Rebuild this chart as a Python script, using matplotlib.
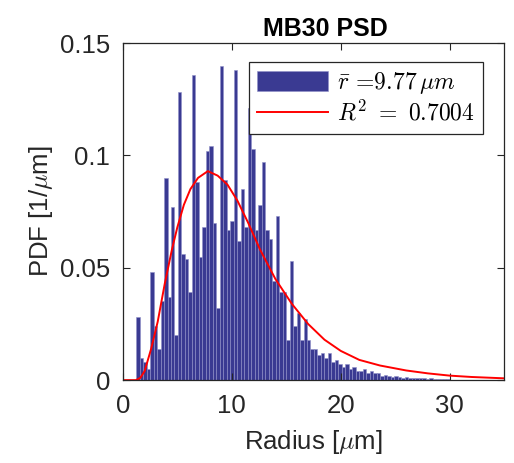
import numpy as np
import matplotlib
matplotlib.use("Agg")
import matplotlib.pyplot as plt

# histogram of radii (bin width ~0.32 um, first bin centred at ~1.38 um)
bin_start = 1.38
bin_width = 0.32
pdf_values = [
    0.028, 0.010, 0.008, 0.005, 0.048, 0.024, 0.014, 0.035, 0.090, 0.037,
    0.077, 0.020, 0.128, 0.056, 0.054, 0.039, 0.136, 0.088, 0.055, 0.068,
    0.102, 0.104, 0.070, 0.032, 0.140, 0.089, 0.067, 0.071, 0.138, 0.062,
    0.085, 0.068, 0.121, 0.103, 0.067, 0.078, 0.097, 0.067, 0.063, 0.044,
    0.073, 0.039, 0.039, 0.018, 0.053, 0.024, 0.030, 0.018, 0.027, 0.018,
    0.014, 0.014, 0.011, 0.012, 0.010, 0.012, 0.008, 0.009, 0.007, 0.006,
    0.007, 0.005, 0.006, 0.004, 0.004, 0.005, 0.003, 0.004, 0.003, 0.003,
    0.002, 0.0025, 0.002, 0.0015, 0.002, 0.0015, 0.001, 0.0015, 0.001, 0.001,
    0.001, 0.0008, 0.001, 0.0006, 0.0008, 0.0005, 0.0006, 0.0004, 0.0005, 0.0003,
]

# fitted distribution
fit_r = [0, 1.2, 1.6, 2.0, 2.6, 3.2, 3.85, 4.5, 5.0, 5.6, 6.2, 6.9, 7.8, 8.7,
         9.6, 10.5, 11.5, 12.6, 14.0, 15.5, 17.0, 18.5, 20.0, 21.7, 23.6,
         26.0, 28.0, 30.0, 32.0, 35.0]
fit_pdf = [0, 0, 0.001, 0.004, 0.014, 0.026, 0.043, 0.058, 0.068, 0.078,
           0.085, 0.090, 0.093, 0.091, 0.087, 0.080, 0.070, 0.058, 0.045,
           0.034, 0.025, 0.018, 0.013, 0.009, 0.0065, 0.0043, 0.003, 0.002,
           0.0014, 0.0008]

x_ticks = [0, 10, 20, 30]
y_ticks = [0, 0.05, 0.1, 0.15]
y_tick_labels = ["0", "0.05", "0.1", "0.15"]

plt.rcParams["font.family"] = ["Liberation Sans", "DejaVu Sans"]
plt.rcParams["mathtext.fontset"] = "cm"

fig = plt.figure(figsize=(5.14, 4.63), dpi=100)
ax = fig.add_axes([0.239, 0.179, 0.742, 0.728])

centers = bin_start + bin_width * np.arange(len(pdf_values))
bars = ax.bar(centers, pdf_values, width=bin_width, color="#3a3a92",
              edgecolor="#9090c8", linewidth=0.4)
line, = ax.plot(fit_r, fit_pdf, color="#ff0000", linewidth=1.4)

ax.set_xlim(0, 35)
ax.set_ylim(0, 0.15)
ax.set_xticks(x_ticks)
ax.set_yticks(y_ticks)
ax.set_yticklabels(y_tick_labels)

ink = "#262626"
for s in ax.spines.values():
    s.set_color(ink)
    s.set_linewidth(0.9)
ax.tick_params(direction="in", top=True, right=True, length=5, width=0.8,
               labelsize=18.5, colors=ink, pad=9)
ax.tick_params(axis="x", pad=10)

ax.set_xlabel(r"Radius [$\mu$m]", fontsize=18.5, color=ink, labelpad=7)
ax.set_ylabel(r"PDF [1/$\mu$m]", fontsize=18.5, color=ink, labelpad=4)
ax.set_title("MB30 PSD", fontsize=18, fontweight="bold", color="black",
             pad=5, x=0.53)

leg = ax.legend([bars, line], [r"$\bar{r}$ =9.77$\,\mu m$", r"$R^2\ =\ $0.7004"],
                loc="upper right", bbox_to_anchor=(0.945, 0.945),
                prop={"family": "cmr10", "size": 17}, handlelength=3.0,
                handleheight=0.95, handletextpad=0.4, borderpad=0.35,
                labelspacing=0.2, fancybox=False, framealpha=1,
                borderaxespad=0)
leg.get_frame().set_edgecolor(ink)
leg.get_frame().set_linewidth(0.9)

fig.savefig("out.png", dpi=100)
